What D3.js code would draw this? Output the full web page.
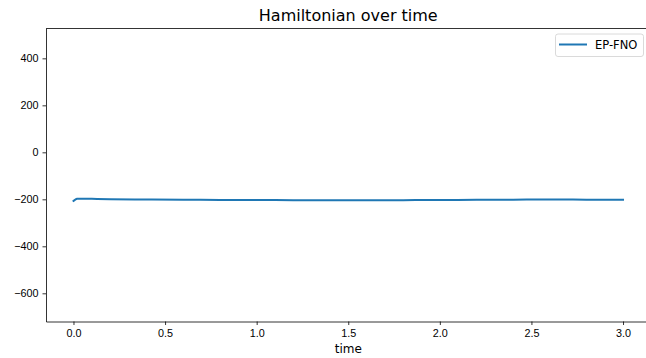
<!DOCTYPE html>
<html>
<head>
<meta charset="utf-8">
<script src="https://cdn.jsdelivr.net/npm/d3@7"></script>
<style>
  body { margin: 0; background: #fff; }
  svg { display: block; font-family: "DejaVu Sans", sans-serif; }
  .tick text { font-size: 10.8px; fill: #000; }
  .domain, .tick line { stroke: #000; stroke-width: 0.8; }
</style>
</head>
<body>
<div id="wrapper"></div>
<script>
// data
const times = [0, 0.01, 0.02, 0.03, 0.05, 0.1, 0.2, 0.4, 0.6, 0.8, 1.0, 1.2, 1.4, 1.6, 1.8, 2.0, 2.2, 2.4, 2.6, 2.8, 3.0]
const hamiltonian = [-207, -201, -198, -197.5, -197.5, -198, -199.5, -200.5, -201.5, -202.5, -203, -203.5, -204, -204, -203.5, -203, -202, -201.5, -201, -201.5, -202]
const seriesName = "EP-FNO"
const xTicks = [0, 0.5, 1.0, 1.5, 2.0, 2.5, 3.0]
const yTicks = [-600, -400, -200, 0, 200, 400]

function drawChart() {
  const dataset = times.map((t, i) => ({ t: t, h: hamiltonian[i] }))
  const xAccessor = d => d.t
  const yAccessor = d => d.h

  let dimensions = {
    width: 646,
    height: 358,
    margin: { top: 28.5, right: -4.5, bottom: 36.5, left: 46 }
  }
  dimensions.boundedWidth = dimensions.width - dimensions.margin.left - dimensions.margin.right
  dimensions.boundedHeight = dimensions.height - dimensions.margin.top - dimensions.margin.bottom

  const wrapper = d3.select("#wrapper")
    .append("svg")
      .attr("width", dimensions.width)
      .attr("height", dimensions.height)

  const bounds = wrapper.append("g")
    .attr("transform", `translate(${dimensions.margin.left},${dimensions.margin.top})`)

  // scales
  const xScale = d3.scaleLinear()
    .domain([-0.15, 3.15])
    .range([0, dimensions.boundedWidth])

  const yScale = d3.scaleLinear()
    .domain([-720, 527])
    .range([dimensions.boundedHeight, 0])

  // data
  const lineGenerator = d3.line()
    .x(d => xScale(xAccessor(d)))
    .y(d => yScale(yAccessor(d)))
    .curve(d3.curveMonotoneX)

  bounds.append("path")
    .datum(dataset)
    .attr("d", lineGenerator)
    .attr("fill", "none")
    .attr("stroke", "#1f77b4")
    .attr("stroke-width", 2)
    .attr("stroke-linecap", "square")

  // axes
  bounds.append("g")
    .attr("transform", `translate(0,${dimensions.boundedHeight})`)
    .call(d3.axisBottom(xScale).tickValues(xTicks).tickFormat(d3.format(".1f")).tickSizeInner(3.5).tickSizeOuter(0).tickPadding(4))

  bounds.append("g")
    .call(d3.axisLeft(yScale).tickValues(yTicks).tickFormat(d => d < 0 ? "\u2212" + Math.abs(d) : d).tickSizeInner(3.5).tickSizeOuter(0).tickPadding(4))

  // top and right spines
  bounds.append("line")
    .attr("x1", 0).attr("x2", dimensions.boundedWidth)
    .attr("y1", 0).attr("y2", 0)
    .attr("stroke", "#000").attr("stroke-width", 0.8)
  bounds.append("line")
    .attr("x1", dimensions.boundedWidth).attr("x2", dimensions.boundedWidth)
    .attr("y1", 0).attr("y2", dimensions.boundedHeight)
    .attr("stroke", "#000").attr("stroke-width", 0.8)

  // labels
  wrapper.append("text")
    .attr("x", dimensions.margin.left + dimensions.boundedWidth / 2)
    .attr("y", 21)
    .attr("text-anchor", "middle")
    .style("font-size", "16px")
    .text("Hamiltonian over time")

  wrapper.append("text")
    .attr("x", dimensions.margin.left + dimensions.boundedWidth / 2)
    .attr("y", 353)
    .attr("text-anchor", "middle")
    .style("font-size", "12px")
    .text("time")

  // legend
  const legend = wrapper.append("g")
  legend.append("rect")
    .attr("x", 555.5).attr("y", 34)
    .attr("width", 88).attr("height", 22.5)
    .attr("rx", 2.5)
    .attr("fill", "#fff")
    .attr("stroke", "#d0d0d0").attr("stroke-width", 0.8)
  legend.append("line")
    .attr("x1", 559).attr("x2", 587)
    .attr("y1", 44.5).attr("y2", 44.5)
    .attr("stroke", "#1f77b4").attr("stroke-width", 2)
  legend.append("text")
    .attr("x", 595).attr("y", 49)
    .style("font-size", "11.5px")
    .text(seriesName)
}

drawChart()
</script>
</body>
</html>
